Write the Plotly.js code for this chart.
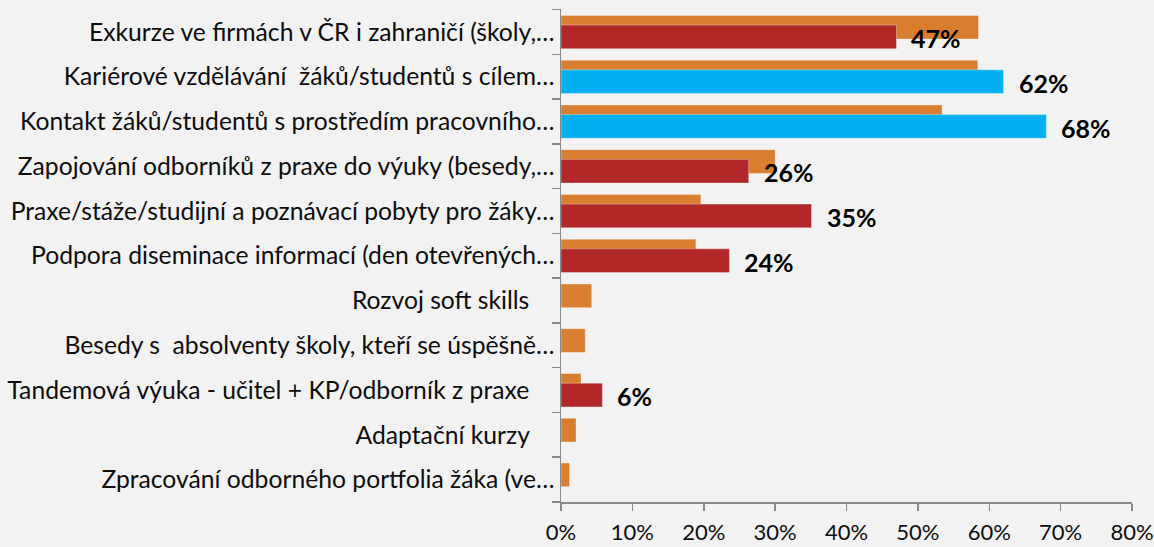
<!DOCTYPE html>
<html>
<head>
<meta charset="utf-8">
<script src="https://cdn.plot.ly/plotly-3.0.1.min.js"></script>
<style>
  html, body { margin: 0; padding: 0; background: #F2F2F2; }
  #chart { width: 1154px; height: 547px; }
</style>
</head>
<body>
<div id="chart"></div>
<script>
// Categories (top to bottom), as displayed (truncated in original)
const categories = [
  "Exkurze ve firmách v ČR i zahraničí (školy,…",
  "Kariérové vzdělávání  žáků/studentů s cílem…",
  "Kontakt žáků/studentů s prostředím pracovního…",
  "Zapojování odborníků z praxe do výuky (besedy,…",
  "Praxe/stáže/studijní a poznávací pobyty pro žáky…",
  "Podpora diseminace informací (den otevřených…",
  "Rozvoj soft skills",
  "Besedy s  absolventy školy, kteří se úspěšně…",
  "Tandemová výuka - učitel + KP/odborník z praxe",
  "Adaptační kurzy",
  "Zpracování odborného portfolia žáka (ve…"
];

// Back series (orange)
const seriesBack = [0.585, 0.584, 0.534, 0.300, 0.196, 0.189, 0.043, 0.034, 0.028, 0.021, 0.012];

// Front series (red / blue highlighted)
const seriesFront = [0.47, 0.62, 0.68, 0.263, 0.351, 0.236, null, null, 0.058, null, null];

// Highlighted categories (blue) in the front series
const highlighted = [false, true, true, false, false, false, false, false, false, false, false];

const xTickVals = [0, 0.1, 0.2, 0.3, 0.4, 0.5, 0.6, 0.7, 0.8];
const xTickText = ["0%", "10%", "20%", "30%", "40%", "50%", "60%", "70%", "80%"];

const ORANGE = "#D97D2F", RED = "#B22727", BLUE = "#00B0F0";
const FONT = "Lato, 'Liberation Sans', sans-serif";

const pad = "\u00A0\u00A0\u00A0\u00A0";
const tickText = categories.map(c => c.endsWith("…") ? c : c + pad);

const traces = [
  {
    type: "bar", orientation: "h",
    y: categories, x: seriesBack,
    width: 0.53, offset: -0.371,
    marker: { color: ORANGE, line: { color: "rgba(255,255,255,0.35)", width: 1 } },
    hoverinfo: "skip", showlegend: false
  },
  {
    type: "bar", orientation: "h",
    y: categories, x: seriesFront,
    width: 0.53, offset: -0.155,
    marker: { color: highlighted.map(h => h ? BLUE : RED), line: { color: "rgba(255,255,255,0.35)", width: 1 } },
    hoverinfo: "skip", showlegend: false
  }
];

const annotations = [];
seriesFront.forEach((v, i) => {
  if (v === null) return;
  annotations.push({
    x: v, y: categories[i], xref: "x", yref: "y",
    text: Math.round(v * 100) + "%",
    showarrow: false, xanchor: "left", yanchor: "middle",
    xshift: 13, yshift: -6,
    font: { family: FONT, size: 25, color: "#000000", weight: "bold" }
  });
});

const layout = {
  width: 1154, height: 547,
  paper_bgcolor: "#F2F2F2", plot_bgcolor: "#F2F2F2",
  margin: { l: 561, r: 22, t: 9, b: 45, pad: 0 },
  barmode: "overlay",
  showlegend: false,
  font: { family: FONT, color: "#0D0D0D" },
  xaxis: {
    range: [0, 0.8],
    tickvals: xTickVals, ticktext: xTickText,
    showgrid: false, zeroline: false,
    showline: true, linecolor: "#898989", linewidth: 1.5,
    ticks: "outside", ticklen: 7, tickcolor: "#898989", tickwidth: 1.5,
    ticklabelstandoff: 3,
    ticklabeloverflow: "allow",
    tickfont: { family: FONT, size: 22, color: "#0D0D0D" },
    fixedrange: true
  },
  yaxis: {
    type: "category",
    autorange: "reversed",
    tickvals: categories, ticktext: tickText,
    tickson: "boundaries",
    showgrid: false, zeroline: false,
    showline: true, linecolor: "#898989", linewidth: 1.5,
    ticks: "outside", ticklen: 8, tickcolor: "#898989", tickwidth: 1.5,
    tickfont: { family: FONT, size: 24.7, color: "#0D0D0D" },
    fixedrange: true
  },
  annotations: annotations
};

Plotly.newPlot("chart", traces, layout, { staticPlot: true, displayModeBar: false });
</script>
</body>
</html>
